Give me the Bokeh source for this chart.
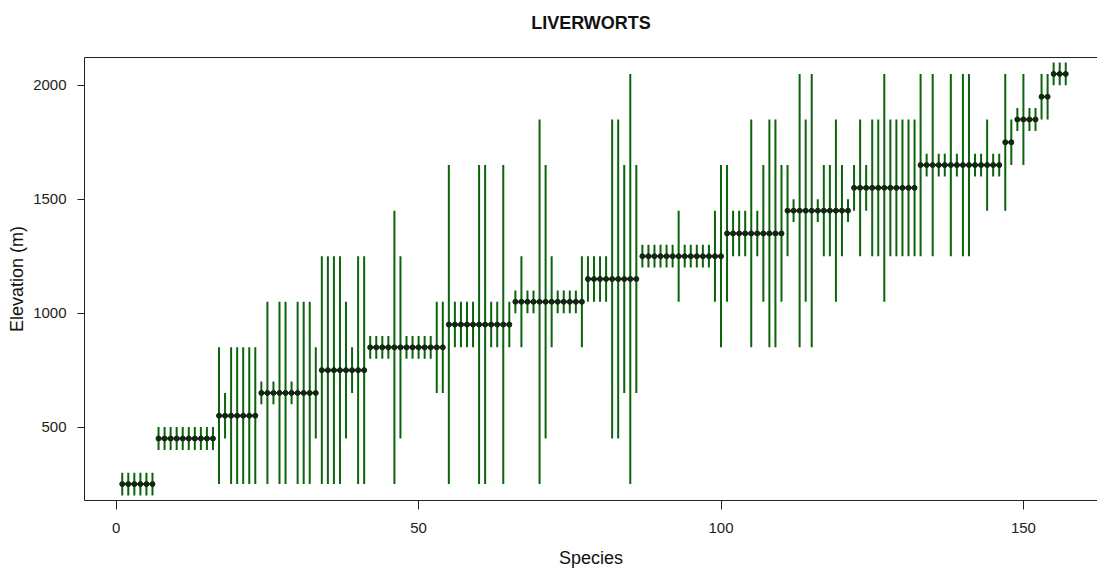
from bokeh.plotting import figure
from bokeh.models import Range1d, FixedTicker, LinearAxis, ColumnDataSource
from bokeh.embed import file_html
from bokeh.resources import INLINE

# Midpoint elevation of each block of species, and how many species share it
group_mid = [250, 450, 550, 650, 750, 850, 950, 1050, 1150, 1250,
             1350, 1450, 1550, 1650, 1750, 1850, 1950, 2050]
group_n = [6, 10, 7, 10, 8, 13, 11, 12, 9, 14, 10, 11, 11, 14, 2, 4, 2, 3]

# Lower elevation limit of each species (species 1..157)
elev_low = [
    200, 200, 200, 200, 200, 200,
    400, 400, 400, 400, 400, 400, 400, 400, 400, 400,
    250, 450, 250, 250, 250, 250, 250,
    600, 250, 600, 250, 250, 600, 250, 250, 250, 450,
    250, 250, 250, 250, 450, 650, 250, 250,
    800, 800, 800, 800, 250, 450, 800, 800, 800, 800, 800, 650, 650,
    250, 850, 850, 850, 850, 250, 250, 850, 850, 250, 850,
    1000, 850, 1000, 1000, 250, 450, 850, 1000, 1000, 1000, 1000, 850,
    1050, 1050, 1050, 1050, 450, 450, 650, 250, 650,
    1200, 1200, 1200, 1200, 1200, 1200, 1050, 1200, 1200, 1200, 1200, 1200, 1050, 850,
    1050, 1250, 1250, 1250, 850, 1250, 1050, 850, 850, 1050,
    1250, 1400, 850, 1050, 850, 1400, 1250, 1250, 1050, 1250, 1400,
    1450, 1250, 1450, 1250, 1250, 1050, 1250, 1250, 1250, 1250, 1250,
    1250, 1600, 1250, 1600, 1600, 1250, 1600, 1250, 1250, 1600, 1600, 1450, 1600, 1600,
    1450, 1650,
    1800, 1650, 1800, 1800,
    1850, 1850,
    2000, 2000, 2000,
]

# Upper elevation limit of each species
elev_high = [
    300, 300, 300, 300, 300, 300,
    500, 500, 500, 500, 500, 500, 500, 500, 500, 500,
    850, 650, 850, 850, 850, 850, 850,
    700, 1050, 700, 1050, 1050, 700, 1050, 1050, 1050, 850,
    1250, 1250, 1250, 1250, 1050, 850, 1250, 1250,
    900, 900, 900, 900, 1450, 1250, 900, 900, 900, 900, 900, 1050, 1050,
    1650, 1050, 1050, 1050, 1050, 1650, 1650, 1050, 1050, 1650, 1050,
    1100, 1250, 1100, 1100, 1850, 1650, 1250, 1100, 1100, 1100, 1100, 1250,
    1250, 1250, 1250, 1250, 1850, 1850, 1650, 2050, 1650,
    1300, 1300, 1300, 1300, 1300, 1300, 1450, 1300, 1300, 1300, 1300, 1300, 1450, 1650,
    1650, 1450, 1450, 1450, 1850, 1450, 1650, 1850, 1850, 1650,
    1650, 1500, 2050, 1850, 2050, 1500, 1650, 1650, 1850, 1650, 1500,
    1650, 1850, 1650, 1850, 1850, 2050, 1850, 1850, 1850, 1850, 1850,
    2050, 1700, 2050, 1700, 1700, 2050, 1700, 2050, 2050, 1700, 1700, 1850, 1700, 1700,
    2050, 1850,
    1900, 2050, 1900, 1900,
    2050, 2050,
    2100, 2100, 2100,
]

x_ticks = [0, 50, 100, 150]
y_ticks = [500, 1000, 1500, 2000]
chart_title = "LIVERWORTS"

# Expand to per-species arrays
species = list(range(1, len(elev_low) + 1))
elev_mid = []
g_start, g_end, g_y = [], [], []
k = 1
for m, n in zip(group_mid, group_n):
    elev_mid += [m] * n
    g_start.append(k)
    g_end.append(k + n - 1)
    g_y.append(m)
    k += n

src = ColumnDataSource(dict(x=species, lo=elev_low, hi=elev_high, mid=elev_mid))
gsrc = ColumnDataSource(dict(x0=g_start, x1=g_end, y=g_y))

FONT = "Liberation Sans"
x_lo = 1 - 0.04 * (len(species) - 1)

p = figure(width=1097, height=571, output_backend="svg", toolbar_location=None,
           x_range=Range1d(x_lo, 162.25), y_range=Range1d(178, 2122),
           min_border_left=84, min_border_right=0, min_border_top=57,
           min_border_bottom=71, background_fill_color="white",
           border_fill_color="white")
p.outline_line_color = None
p.grid.visible = False

p.segment(x0="x", y0="lo", x1="x", y1="hi", source=src,
          line_color="#0b640b", line_width=2)
p.segment(x0="x0", y0="y", x1="x1", y1="y", source=gsrc,
          line_color="#122612", line_width=2)
p.scatter(x="x", y="mid", source=src, size=5, fill_color="#122612",
          line_color="#122612")

xa = p.xaxis[0]
xa.ticker = FixedTicker(ticks=x_ticks)
xa.major_tick_out = 9
xa.major_tick_in = 0
xa.minor_tick_out = 0
xa.minor_tick_in = 0
xa.major_label_standoff = 13
xa.major_label_text_font = FONT
xa.major_label_text_font_size = "15px"
xa.major_label_text_color = "#222222"
xa.axis_line_color = "#222222"
xa.major_tick_line_color = "#222222"
xa.axis_label = "Species"
xa.axis_label_standoff = 12
xa.axis_label_text_font = FONT
xa.axis_label_text_font_size = "18px"
xa.axis_label_text_font_style = "normal"
xa.axis_label_text_color = "#111111"

ya = p.yaxis[0]
ya.ticker = FixedTicker(ticks=y_ticks)
ya.major_tick_out = 7
ya.major_tick_in = 0
ya.minor_tick_out = 0
ya.minor_tick_in = 0
ya.major_label_standoff = 11
ya.major_label_orientation = "horizontal"
ya.major_label_text_font = FONT
ya.major_label_text_font_size = "15px"
ya.major_label_text_color = "#222222"
ya.axis_line_color = "#222222"
ya.major_tick_line_color = "#222222"
ya.axis_label = "Elevation (m)"
ya.axis_label_standoff = 3
ya.axis_label_text_font = FONT
ya.axis_label_text_font_size = "18px"
ya.axis_label_text_font_style = "normal"
ya.axis_label_text_color = "#111111"

# Top border of the plot box; its axis label carries the chart title
top_axis = LinearAxis(ticker=FixedTicker(ticks=[]), major_tick_out=0, major_tick_in=0,
                      minor_tick_out=0, minor_tick_in=0, axis_line_color="#222222",
                      major_label_standoff=0, major_label_text_font_size="0px",
                      axis_label=chart_title, axis_label_standoff=25,
                      axis_label_text_font=FONT, axis_label_text_font_size="18px",
                      axis_label_text_font_style="bold",
                      axis_label_text_color="#111111")
p.add_layout(top_axis, "above")

open("out.html", "w").write(file_html(p, INLINE))
